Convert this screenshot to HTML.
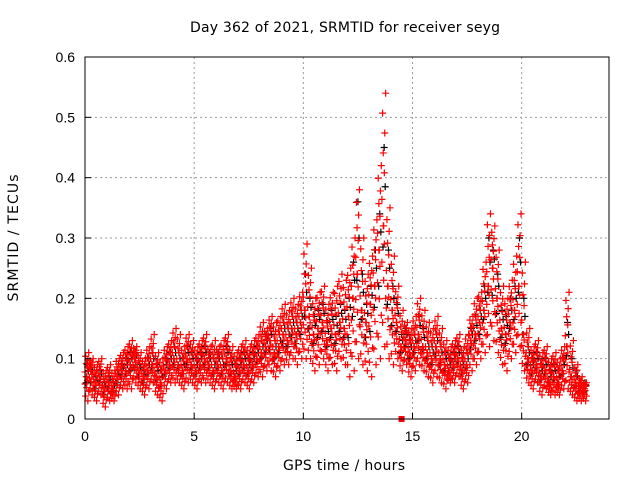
<!DOCTYPE html>
<html><head><meta charset="utf-8"><style>
body{margin:0;background:#fff;}
svg{display:block;font-family:"Liberation Sans",sans-serif;}
.ttl{font-family:"DejaVu Sans",sans-serif;}
</style></head><body>
<svg id="chart" width="640" height="480">
<rect width="640" height="480" fill="#fff"/>
<text class="ttl" x="345" y="32" text-anchor="middle" font-size="14" textLength="310">Day 362 of 2021, SRMTID for receiver seyg</text>
<text class="ttl" x="344" y="470" text-anchor="middle" font-size="14" textLength="122">GPS time / hours</text>
<text class="ttl" transform="translate(18,238) rotate(-90)" text-anchor="middle" font-size="14" textLength="127">SRMTID / TECUs</text>
<g id="grid"></g><g id="marks"></g><g id="axes"></g>
</svg>
<script>
const xTicks=[0,5,10,15,20];
const yTicks=[0,0.1,0.2,0.3,0.4,0.5,0.6];
const yTickLabels=["0","0.1","0.2","0.3","0.4","0.5","0.6"];
const step=0.2;
const redMid=[.07,.08,.06,.07,.05,.06,.05,.07,.08,.08,.09,.10,.08,.07,.08,.09,.07,.06,.08,.09,.10,.09,.08,.10,.09,.08,.09,.10,.09,.08,.09,.08,.10,.08,.07,.08,.09,.08,.09,.10,.11,.12,.13,.11,.12,.14,.13,.15,.14,.16,.18,.17,.14,.15,.16,.13,.15,.14,.16,.15,.17,.20,.24,.18,.16,.19,.22,.28,.32,.22,.18,.16,.12,.13,.11,.12,.14,.12,.11,.10,.12,.10,.09,.08,.09,.10,.08,.09,.13,.14,.16,.18,.22,.25,.20,.15,.14,.16,.18,.22,.14,.10,.08,.09,.07,.08,.06,.07,.06,.08,.12,.07,.06,.05,.05];
const redHi=[.11,.10,.09,.10,.08,.09,.08,.10,.11,.12,.13,.12,.11,.10,.12,.14,.11,.10,.12,.13,.15,.14,.12,.14,.13,.12,.13,.14,.12,.13,.12,.13,.14,.12,.11,.12,.13,.12,.13,.14,.16,.15,.17,.16,.17,.19,.18,.20,.19,.21,.29,.25,.20,.21,.22,.19,.21,.22,.24,.23,.25,.30,.38,.30,.24,.27,.33,.42,.54,.35,.27,.22,.18,.16,.15,.17,.20,.18,.16,.15,.17,.15,.13,.12,.13,.14,.12,.14,.17,.20,.21,.26,.34,.32,.28,.22,.20,.23,.27,.34,.26,.15,.12,.13,.11,.12,.10,.11,.10,.12,.21,.13,.09,.07,.06];
const redLo=[.03,.04,.03,.04,.02,.03,.03,.04,.05,.05,.05,.06,.05,.04,.05,.06,.04,.03,.05,.06,.06,.06,.05,.06,.06,.05,.06,.06,.06,.05,.06,.05,.06,.05,.05,.05,.06,.05,.06,.07,.07,.08,.08,.07,.08,.09,.09,.10,.09,.10,.10,.10,.08,.09,.10,.08,.09,.08,.10,.09,.07,.08,.10,.09,.08,.07,.09,.10,.12,.10,.09,.10,.08,.09,.07,.08,.09,.08,.07,.06,.07,.06,.05,.06,.06,.07,.05,.06,.08,.09,.10,.11,.12,.13,.11,.09,.08,.10,.11,.12,.08,.06,.05,.06,.04,.05,.04,.04,.04,.05,.05,.04,.03,.03,.03];
const blackVals=[.09,.08,.07,.08,.06,.07,.06,.08,.09,.10,.11,.11,.09,.08,.10,.11,.09,.08,.10,.11,.12,.11,.10,.12,.11,.10,.11,.12,.11,.10,.11,.10,.12,.10,.09,.10,.11,.10,.11,.12,.13,.14,.15,.13,.14,.16,.15,.17,.16,.18,.24,.20,.17,.18,.19,.16,.18,.17,.19,.18,.20,.26,.36,.24,.19,.22,.28,.34,.45,.28,.22,.19,.14,.15,.13,.14,.17,.15,.13,.12,.14,.12,.11,.10,.11,.12,.10,.11,.15,.17,.18,.22,.30,.28,.24,.18,.17,.20,.22,.30,.20,.12,.10,.11,.09,.10,.08,.09,.08,.10,.16,.10,.08,.06,.06];
const markerPoint=[14.5,0];

const X0=85,X1=609,Y0=419,Y1=57,XMAX=24,YMAX=0.6;
const xs=v=>X0+(X1-X0)*v/XMAX;
const ys=v=>Y0-(Y0-Y1)*v/YMAX;
const NS="http://www.w3.org/2000/svg";
function mk(tag,attrs,parent){const e=document.createElementNS(NS,tag);for(const k in attrs)e.setAttribute(k,attrs[k]);parent.appendChild(e);return e;}
const grid=document.getElementById('grid'),marks=document.getElementById('marks'),axes=document.getElementById('axes');
xTicks.forEach(t=>{
  if(t>0){const l=mk('line',{x1:xs(t),x2:xs(t),y1:Y0,y2:Y1,stroke:'#999','stroke-dasharray':'2,3'},grid);
  
  }
  const tk=mk('line',{x1:xs(t),x2:xs(t),y1:Y0,y2:Y0-6,stroke:'#000'},axes);
  
  
  const tx=mk('text',{x:xs(t),y:Y0+22,'text-anchor':'middle','font-size':14},axes);tx.textContent=t;
  
  
});
yTicks.forEach((t,i)=>{
  if(t>0&&t<YMAX){const l=mk('line',{x1:X0,x2:X1,y1:ys(t),y2:ys(t),stroke:'#999','stroke-dasharray':'2,3'},grid);
  
  }
  const tk=mk('line',{x1:X0,x2:X0+6,y1:ys(t),y2:ys(t),stroke:'#000'},axes);
  
  
  const tx=mk('text',{x:X0-10,y:ys(t)+5,'text-anchor':'end','font-size':14},axes);tx.textContent=yTickLabels[i];
  
  
});
const frame=mk('rect',{x:X0,y:Y1,width:X1-X0,height:Y0-Y1,fill:'none',stroke:'#000'},axes);


function cross(t,v,color,name){
  const x=xs(t),y=ys(v);
  const p=mk('path',{d:`M${x-3.5},${y}h7M${x},${y-3.5}v7`,stroke:color,'stroke-width':1.2,fill:'none'},marks);
  
  
}
const fr=[0,0.2,0.4,0.55,0.7,0.85,1];
const offs=[0.13,0.03,0.17,0.08,0.0,0.11,0.06];
blackVals.forEach((v,i)=>{
  cross(i*step+0.1,v,'#000','black-point');
  cross(i*step+0.05,(v+redLo[i])/2,'#000','black-point');
  cross(i*step+0.15,(v+redMid[i])/2,'#000','black-point');
});
redMid.forEach((v,i)=>{
  const t=i*step;
  fr.forEach((f,k)=>{cross(t+offs[k],redLo[i]+f*(v-redLo[i]),'#f00','red-point');});
  fr.forEach((f,k)=>{cross(t+offs[(k+3)%7],v+f*(redHi[i]-v),'#f00','red-point');});
});
const sq=mk('rect',{x:xs(markerPoint[0])-3,y:ys(markerPoint[1])-3,width:6,height:6,fill:'#f00'},marks);


</script>
</body></html>
